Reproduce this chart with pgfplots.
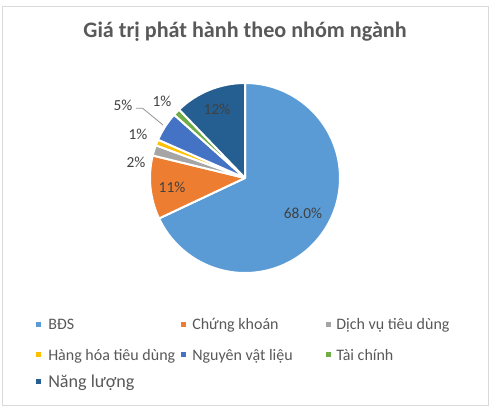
\documentclass[border=0pt]{standalone}
\usepackage{pgfplots}
\pgfplotsset{compat=1.18}
\usepackage{pgfplotstable}
\usepackage{fontspec}
\setmainfont{Carlito}

\definecolor{cBDS}{HTML}{5B9BD5}
\definecolor{cCK}{HTML}{ED7D31}
\definecolor{cDV}{HTML}{A5A5A5}
\definecolor{cHH}{HTML}{FFC000}
\definecolor{cNVL}{HTML}{4472C4}
\definecolor{cTC}{HTML}{70AD47}
\definecolor{cNL}{HTML}{255E91}
\definecolor{txt}{HTML}{595959}
\definecolor{lbl}{HTML}{404040}
\definecolor{frame}{HTML}{D9D9D9}

% share of issuance value by sector, percent
\pgfplotstableread{
value color
68.0  cBDS
10.8  cCK
1.8   cDV
1.0   cHH
5.0   cNVL
1.2   cTC
12.2  cNL
}\piedata

\begin{document}
\begin{tikzpicture}
\begin{axis}[
    x=0.75pt, y=0.75pt, y dir=reverse,
    xmin=0, xmax=493, ymin=0, ymax=410,
    hide axis, clip=false
]
\fill[white] (axis cs:0,0) rectangle (axis cs:493,410);
\draw[frame, line width=0.75pt] (axis cs:2.5,7) rectangle (axis cs:488,405);

\node[txt, font=\fontsize{16.6}{19}\selectfont\bfseries] at (axis cs:245,32) {Giá trị phát hành theo nhóm ngành};

% wedges, clockwise from 12 o'clock
\def\cum{0}
\pgfplotsforeachungrouped \i in {0,...,6}{
    \pgfplotstablegetelem{\i}{value}\of\piedata \let\v\pgfplotsretval
    \pgfplotstablegetelem{\i}{color}\of\piedata \let\c\pgfplotsretval
    \pgfmathsetmacro\a{90-3.6*\cum}
    \pgfmathsetmacro\b{90-3.6*(\cum+\v)}
    \edef\temp{\noexpand\filldraw[fill=\c, draw=white, line width=1.5pt, line join=round]
        (axis cs:245,178) -- ++(\a:71.25pt) arc[start angle=\a, end angle=\b, radius=71.25pt] -- cycle;}
    \temp
    \pgfmathsetmacro\cum{\cum+\v}
}

% data labels
\begin{scope}[every node/.style={lbl, font=\fontsize{11.5}{13}\selectfont}]
\node at (axis cs:303,213) {68.0\%};
\node at (axis cs:172,187) {11\%};
\node at (axis cs:217,109) {12\%};
\node at (axis cs:136,162.5) {2\%};
\node at (axis cs:138,134) {1\%};
\node at (axis cs:123,105) {5\%};
\node at (axis cs:162,101.5) {1\%};
\end{scope}
\draw[cDV!90!black, line width=0.6pt] (axis cs:136,108.3) -- (axis cs:142.7,108.3) -- (axis cs:163,125);

% legend
\begin{scope}[every node/.style={txt, anchor=base west, inner sep=0pt, font=\fontsize{12}{14}\selectfont}]
\fill[cBDS] (axis cs:35.5,321.5) rectangle (axis cs:40.5,326.5);
\node at (axis cs:48,329.3) {BĐS};
\fill[cCK] (axis cs:180.5,321.5) rectangle (axis cs:185.5,326.5);
\node at (axis cs:192,329.3) {Chứng khoán};
\fill[cDV] (axis cs:325.5,321.5) rectangle (axis cs:330.5,326.5);
\node at (axis cs:336,329.3) {Dịch vụ tiêu dùng};
\fill[cHH] (axis cs:35.5,352) rectangle (axis cs:40.5,357);
\node at (axis cs:48,360) {Hàng hóa tiêu dùng};
\fill[cNVL] (axis cs:180.5,352) rectangle (axis cs:185.5,357);
\node at (axis cs:192,360) {Nguyên vật liệu};
\fill[cTC] (axis cs:325.5,352) rectangle (axis cs:330.5,357);
\node at (axis cs:336,360) {Tài chính};
\fill[cNL] (axis cs:35.5,379) rectangle (axis cs:40.5,384);
\node[font=\fontsize{13.6}{16}\selectfont] at (axis cs:48,387.3) {Năng lượng};
\end{scope}
\end{axis}
\end{tikzpicture}
\end{document}
